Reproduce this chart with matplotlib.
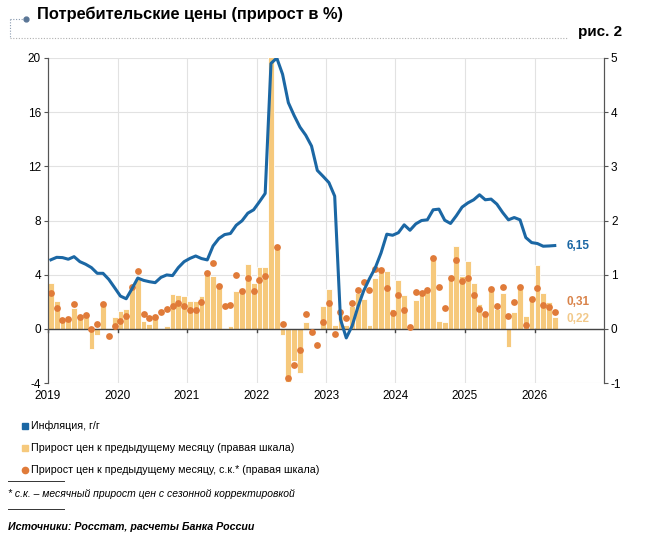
import numpy as np
import matplotlib
matplotlib.use("Agg")
import matplotlib.pyplot as plt
from matplotlib.lines import Line2D

plt.rcParams["font.family"] = ["Liberation Sans", "DejaVu Sans"]
plt.rcParams["axes.unicode_minus"] = False

# monthly data, Jan 2019 .. Apr 2026
inflation_yoy = [
    5.1, 5.28, 5.26, 5.14, 5.33, 4.96, 4.77, 4.52, 4.1, 4.1, 3.65, 3.04,
    2.42, 2.22, 2.96, 3.75, 3.58, 3.48, 3.41, 3.8, 3.98, 3.93, 4.52, 4.96,
    5.2, 5.38, 5.19, 5.09, 6.12, 6.67, 6.96, 7.04, 7.65, 7.98, 8.54, 8.79,
    9.38, 10.0, 19.6, 20.0, 18.8, 16.7, 15.75, 14.9, 14.3, 13.5, 11.7, 11.26,
    10.8, 9.8, 0.7, -0.67, 0.2, 1.6, 2.8, 3.7, 4.5, 5.6, 6.99, 6.91,
    7.1, 7.68, 7.28, 7.75, 8.0, 8.05, 8.79, 8.84, 8.02, 7.78, 8.35, 8.99,
    9.3, 9.53, 9.9, 9.53, 9.58, 9.21, 8.59, 8.05, 8.22, 8.05, 6.74, 6.37,
    6.3, 6.1, 6.12, 6.15,
]
mom = [
    0.85, 0.51, 0.17, 0.18, 0.39, 0.2, 0.25, -0.37, -0.12, 0.47, 0.01, 0.22,
    0.33, 0.37, 0.81, 0.92, 0.14, 0.09, 0.2, 0.0, 0.06, 0.64, 0.63, 0.61,
    0.52, 0.52, 0.6, 1.03, 0.98, 0.83, 0.0, 0.06, 0.7, 0.76, 1.2, 0.84,
    1.15, 1.15, 7.6, 1.5, -0.12, -0.98, -0.59, -0.81, 0.13, -0.02, 0.0, 0.43,
    0.73, 0.08, 0.27, 0.08, 0.43, 0.66, 0.56, 0.08, 0.93, 1.15, 1.06, 0.36,
    0.91, 0.62, 0.0, 0.53, 0.64, 0.7, 1.3, 0.14, 0.12, 0.92, 1.53, 0.98,
    1.25, 0.84, 0.45, 0.3, 0.73, 0.36, 0.67, -0.34, 0.32, 0.73, 0.24, 0.61,
    1.18, 0.67, 0.5, 0.22,
]
mom_sa = [
    0.67, 0.39, 0.16, 0.19, 0.45, 0.22, 0.26, 0.0, 0.09, 0.45, -0.14, 0.05,
    0.15, 0.24, 0.78, 1.07, 0.28, 0.2, 0.22, 0.32, 0.37, 0.42, 0.47, 0.42,
    0.35, 0.35, 0.5, 1.03, 1.22, 0.79, 0.42, 0.44, 1.0, 0.69, 0.94, 0.69,
    0.91, 0.97, np.nan, 1.51, 0.09, -0.9, -0.66, -0.39, 0.28, -0.05, -0.29, 0.12,
    0.48, -0.09, 0.31, 0.2, 0.48, 0.72, 0.86, 0.71, 1.11, 1.09, 0.76, 0.29,
    0.62, 0.35, 0.03, 0.68, 0.67, 0.72, 1.3, 0.78, 0.38, 0.93, 1.27, 0.88,
    0.93, 0.62, 0.36, 0.27, 0.73, 0.42, 0.78, 0.24, 0.49, 0.78, 0.08, 0.55,
    0.76, 0.44, 0.41, 0.31,
]
years = [2019, 2020, 2021, 2022, 2023, 2024, 2025, 2026]

BLUE = "#1b67a4"
BAR = "#f6c97c"
DOT = "#e07b39"
GRID = "#e2e2e2"
W, H = 656, 537


def fx(px):
    return px / W


def fy(py):
    return 1 - py / H


fig = plt.figure(figsize=(W / 100, H / 100), dpi=100)
ax = fig.add_axes([fx(48), fy(383), fx(604) - fx(48), fy(58) - fy(383)])
ax2 = ax.twinx()

x = np.arange(len(mom)) + 0.5

ax.set_xlim(0, 96)
ax.set_ylim(-4, 20)
ax2.set_ylim(-1, 5)
ax.set_yticks(range(-4, 21, 4))
ax2.set_yticks(range(-1, 6))
year_pos = [12 * k for k in range(len(years))]
ax.set_xticks(year_pos)
ax.set_xticklabels([str(y) for y in years])

for a in (ax, ax2):
    for s in ("top", "bottom"):
        a.spines[s].set_visible(False)
    a.spines["left"].set_color("#555555")
    a.spines["right"].set_color("#555555")
ax.tick_params(axis="y", length=3, color="#555555", labelsize=8.5, pad=2)
ax2.tick_params(axis="y", length=3, color="#555555", labelsize=8.5, pad=2)
ax.tick_params(axis="x", length=0, labelsize=8.5, pad=5)
ax.patch.set_visible(False)
ax2.set_zorder(0)
ax.set_zorder(1)

# grid drawn on the lower (right-scale) axes so it stays behind the bars
for v in range(-1, 6):
    ax2.axhline(v, color=GRID, lw=0.8, zorder=0.5)
for p in year_pos[1:]:
    ax2.axvline(p, color=GRID, lw=0.8, zorder=0.5)

ax2.bar(x, mom, width=1.0, color=BAR, edgecolor="white", linewidth=0.6, zorder=2)
ax2.axhline(0, color="#444444", lw=1.0, zorder=3)
for p in year_pos:
    ax2.plot([p, p], [0, -0.06], color="#444444", lw=1.0, zorder=3,
             clip_on=False)
ax2.scatter(x, mom_sa, s=24, color=DOT, zorder=4, linewidths=0)
ax.plot(x, inflation_yoy, color=BLUE, lw=2.2, zorder=5, solid_joinstyle="round")

ax.text(89.6, inflation_yoy[-1], "6,15", color=BLUE, fontsize=8.5,
        fontweight="bold", va="center", ha="left", zorder=6)
ax2.text(89.6, 0.5, "0,31", color="#d9834a", fontsize=8.5,
         fontweight="bold", va="center", ha="left")
ax2.text(89.6, 0.18, "0,22", color="#f2c98a", fontsize=8.5,
         fontweight="bold", va="center", ha="left")

# header
fig.text(fx(37), fy(14), "Потребительские цены (прирост в %)", fontsize=11.8,
         fontweight="bold", va="center", ha="left")
fig.text(fx(622), fy(32), "рис. 2", fontsize=11, fontweight="bold",
         va="center", ha="right")
fig.add_artist(Line2D([fx(10), fx(24)], [fy(19), fy(19)], color="#8a9bb0",
                      lw=0.8, ls=(0, (1, 1.5))))
fig.add_artist(Line2D([fx(10), fx(10)], [fy(19), fy(38)], color="#8a9bb0",
                      lw=0.8, ls=(0, (1, 1.5))))
fig.add_artist(Line2D([fx(10), fx(568)], [fy(38), fy(38)], color="#b0b0b0",
                      lw=0.8, ls=(0, (1, 1.5))))
fig.add_artist(Line2D([fx(26)], [fy(19)], marker="o", ms=3.5, color="#5a7696",
                      lw=0))

# legend
legend_rows = [
    ("s", BLUE, "Инфляция, г/г"),
    ("s", BAR, "Прирост цен к предыдущему месяцу (правая шкала)"),
    ("o", DOT, "Прирост цен к предыдущему месяцу, с.к.* (правая шкала)"),
]
for i, (mk, col, label) in enumerate(legend_rows):
    yy = 426 + i * 22
    fig.add_artist(Line2D([fx(25)], [fy(yy)], marker=mk, ms=4.5, color=col,
                          lw=0))
    fig.text(fx(31), fy(yy), label, fontsize=7.7, va="center", ha="left")

fig.add_artist(Line2D([fx(8), fx(64)], [fy(481), fy(481)], color="#333333",
                      lw=0.7))
fig.text(fx(8), fy(494), "* с.к. – месячный прирост цен с сезонной корректировкой",
         fontsize=7.5, style="italic", va="center", ha="left")
fig.add_artist(Line2D([fx(8), fx(64)], [fy(509), fy(509)], color="#333333",
                      lw=0.7))
fig.text(fx(8), fy(527), "Источники: Росстат, расчеты Банка России",
         fontsize=7.7, style="italic", fontweight="bold", va="center",
         ha="left")

fig.savefig("out.png", dpi=100)
